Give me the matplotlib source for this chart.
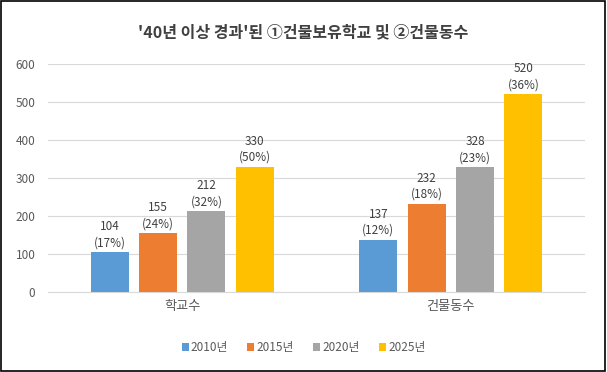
import matplotlib.pyplot as plt
import numpy as np
from matplotlib.patches import Rectangle

plt.rcParams['font.family'] = ['Noto Sans CJK KR', 'DejaVu Sans']

# Data
categories = ['학교수', '건물동수']
years = ['2010년', '2015년', '2020년', '2025년']
values = [[104, 137], [155, 232], [212, 328], [330, 520]]
shares = [['17%', '12%'], ['24%', '18%'], ['32%', '23%'], ['50%', '36%']]
colors = ['#5B9BD5', '#ED7D31', '#A5A5A5', '#FFC000']

fig = plt.figure(figsize=(6.07, 3.72), dpi=100)
ax = fig.add_axes([0.079, 0.215, 0.885, 0.613])

x = np.arange(len(categories))
width = 0.142
step = 0.18
for i, year in enumerate(years):
    pos = x + (i - 1.5) * step
    ax.bar(pos, values[i], width, color=colors[i], label=year, zorder=3)
    for p, v, s in zip(pos, values[i], shares[i]):
        ax.text(p, v + 8, f'{v}\n({s})', ha='center', va='bottom',
                fontsize=8.5, color='#404040', linespacing=1.3)

ax.set_xlim(-0.5, 1.5)
ax.set_ylim(0, 600)
ax.set_yticks(range(0, 601, 100))
ax.set_xticks(x)
ax.set_xticklabels(categories, fontsize=9.5, color='#595959')
ax.tick_params(axis='y', labelsize=8.5, labelcolor='#595959', length=0, pad=9)
ax.tick_params(axis='x', length=0, pad=6)
ax.grid(axis='y', color='#D9D9D9', linewidth=0.8, zorder=0)
for s in ['top', 'right', 'left']:
    ax.spines[s].set_visible(False)
ax.spines['bottom'].set_color('#D9D9D9')

fig.suptitle("'40년 이상 경과'된 ①건물보유학교 및 ②건물동수", x=0.5, y=0.935,
             fontsize=11.5, fontweight='bold', color='#404040')

fig.legend(loc='center', bbox_to_anchor=(0.5, 0.066), ncol=4, frameon=False,
           fontsize=8.5, handlelength=0.6, handleheight=0.6, handletextpad=0.2,
           columnspacing=1.6, labelcolor='#595959')

fig.patches.append(Rectangle((0.002, 0.003), 0.995, 0.993, transform=fig.transFigure,
                             fill=False, edgecolor='black', linewidth=1.2))

fig.savefig('out.png', dpi=100)
